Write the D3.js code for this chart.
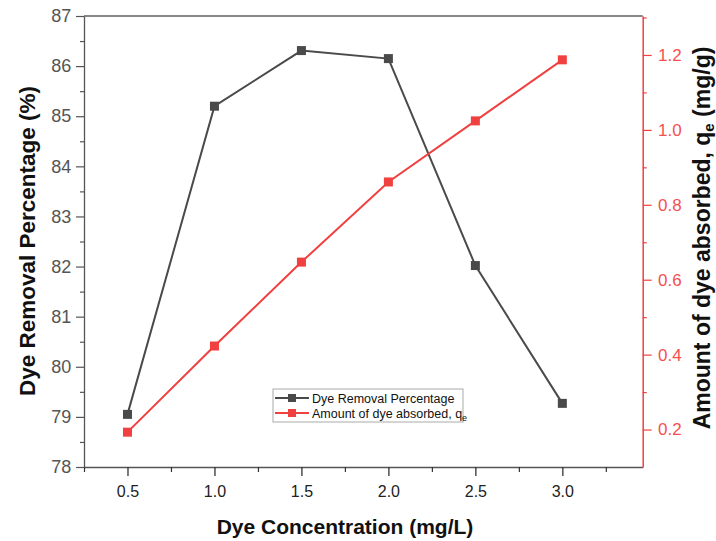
<!DOCTYPE html>
<html>
<head>
<meta charset="utf-8">
<script src="https://cdn.jsdelivr.net/npm/d3@7"></script>
<style>
  body { margin: 0; background: #fff; }
  text { font-family: "Liberation Sans", Arial, sans-serif; }
</style>
</head>
<body>
<svg width="716" height="541"></svg>
<script>
var svg = d3.select("svg");

// data
var concentration = [0.5, 1.0, 1.5, 2.0, 2.5, 3.0];
var removalPct = [79.05, 85.2, 86.31, 86.15, 82.02, 79.27];
var absorbed = [0.193, 0.423, 0.647, 0.861, 1.024, 1.187];
var xTicks = [0.5, 1.0, 1.5, 2.0, 2.5, 3.0];
var leftTicks = [78, 79, 80, 81, 82, 83, 84, 85, 86, 87];
var rightTicks = [0.2, 0.4, 0.6, 0.8, 1.0, 1.2];

// plot box (note: "top" is a reserved window global, so use pTop)
var pLeft = 84, pRight = 642.7, pTop = 16, pBottom = 467;

var x = d3.scaleLinear().domain([0.25, 3.462]).range([pLeft, pRight]);
var yL = d3.scaleLinear().domain([78, 87]).range([pBottom, pTop]);
var yR = d3.scaleLinear().domain([0.1, 1.304]).range([pBottom, pTop]);

var blk = "#4a4a4a", red = "#f04040";

// top frame line
svg.append("line").attr("x1", pLeft).attr("x2", pRight).attr("y1", pTop).attr("y2", pTop)
  .attr("stroke", "#111").attr("stroke-width", 1.2);

// x axis
var xAxis = svg.append("g").attr("transform", "translate(0," + pBottom + ")")
  .call(d3.axisBottom(x).tickValues(xTicks).tickFormat(d3.format(".1f")).tickSize(9).tickSizeOuter(0));
xAxis.select(".domain").attr("stroke", "#555").attr("stroke-width", 1.3);
xAxis.selectAll(".tick line").attr("stroke", "#333").attr("stroke-width", 1.3);
xAxis.selectAll("text").attr("font-size", 16).attr("fill", "#222").attr("dy", "1.15em");
svg.append("g").attr("transform", "translate(0," + pBottom + ")")
  .call(d3.axisBottom(x).tickValues(d3.range(0.25, 3.5, 0.5)).tickFormat("").tickSize(5).tickSizeOuter(0))
  .call(function(g) { g.select(".domain").remove(); g.selectAll("line").attr("stroke", "#333").attr("stroke-width", 1.2); });

// left axis
var lAxis = svg.append("g").attr("transform", "translate(" + pLeft + ",0)")
  .call(d3.axisLeft(yL).tickValues(leftTicks).tickSize(8).tickSizeOuter(0));
lAxis.select(".domain").attr("stroke", "#555").attr("stroke-width", 1.3);
lAxis.selectAll(".tick line").attr("stroke", "#555").attr("stroke-width", 1.2);
lAxis.selectAll("text").attr("font-size", 18).attr("fill", "#555").attr("dx", "-0.1em");
svg.append("g").attr("transform", "translate(" + pLeft + ",0)")
  .call(d3.axisLeft(yL).tickValues(d3.range(78.5, 87, 1)).tickFormat("").tickSize(4).tickSizeOuter(0))
  .call(function(g) { g.select(".domain").remove(); g.selectAll("line").attr("stroke", "#555").attr("stroke-width", 1.2); });

// right axis
var rAxis = svg.append("g").attr("transform", "translate(" + pRight + ",0)")
  .call(d3.axisRight(yR).tickValues(rightTicks).tickFormat(d3.format(".1f")).tickSize(9).tickSizeOuter(0));
rAxis.select(".domain").attr("stroke", red).attr("stroke-width", 1.5);
rAxis.selectAll(".tick line").attr("stroke", red).attr("stroke-width", 1.2);
rAxis.selectAll("text").attr("font-size", 17).attr("fill", "#f55050").attr("dx", "0.2em");
svg.append("g").attr("transform", "translate(" + pRight + ",0)")
  .call(d3.axisRight(yR).tickValues([0.3, 0.5, 0.7, 0.9, 1.1, 1.3]).tickFormat("").tickSize(4).tickSizeOuter(0))
  .call(function(g) { g.select(".domain").remove(); g.selectAll("line").attr("stroke", red).attr("stroke-width", 1.2); });

// series
var lineL = d3.line().x(function(d, i) { return x(concentration[i]); }).y(function(d) { return yL(d); });
var lineR = d3.line().x(function(d, i) { return x(concentration[i]); }).y(function(d) { return yR(d); });

svg.append("path").attr("d", lineL(removalPct)).attr("fill", "none").attr("stroke", blk).attr("stroke-width", 2);
svg.append("path").attr("d", lineR(absorbed)).attr("fill", "none").attr("stroke", red).attr("stroke-width", 2);

var sq = 9;
svg.selectAll(".mL").data(removalPct).enter().append("rect")
  .attr("x", function(d, i) { return x(concentration[i]) - sq / 2; })
  .attr("y", function(d) { return yL(d) - sq / 2; })
  .attr("width", sq).attr("height", sq).attr("fill", blk);
svg.selectAll(".mR").data(absorbed).enter().append("rect")
  .attr("x", function(d, i) { return x(concentration[i]) - sq / 2; })
  .attr("y", function(d) { return yR(d) - sq / 2; })
  .attr("width", sq).attr("height", sq).attr("fill", red);

// legend
var lg = svg.append("g").attr("transform", "translate(273,389)");
lg.append("rect").attr("width", 190).attr("height", 33).attr("fill", "#fff").attr("stroke", "#aaa").attr("stroke-width", 1);
[[blk, "Dye Removal Percentage", 9], [red, "Amount of dye absorbed, q", 24]].forEach(function(e) {
  lg.append("line").attr("x1", 2).attr("x2", 36).attr("y1", e[2]).attr("y2", e[2]).attr("stroke", e[0]).attr("stroke-width", 2);
  lg.append("rect").attr("x", 15).attr("y", e[2] - 4).attr("width", 8).attr("height", 8).attr("fill", e[0]);
  var t = lg.append("text").attr("x", 39).attr("y", e[2] + 4.5).attr("font-size", 12.5).attr("fill", "#111").text(e[1]);
  if (e[0] === red) t.append("tspan").attr("font-size", 9).attr("dy", 3).text("e");
});

// axis titles
svg.append("text").attr("x", 345).attr("y", 534).attr("text-anchor", "middle")
  .attr("font-size", 21).attr("font-weight", "bold").attr("fill", "#111").text("Dye Concentration (mg/L)");
svg.append("text").attr("transform", "translate(35,241) rotate(-90)").attr("text-anchor", "middle")
  .attr("font-size", 22.5).attr("font-weight", "bold").attr("fill", "#111").text("Dye Removal Percentage (%)");
var rt = svg.append("text").attr("transform", "translate(710,238) rotate(-90)").attr("text-anchor", "middle")
  .attr("font-size", 23).attr("font-weight", "bold").attr("fill", "#111");
rt.append("tspan").text("Amount of dye absorbed, q");
rt.append("tspan").attr("font-size", 15).attr("dy", 4).text("e");
rt.append("tspan").attr("dy", -4).text(" (mg/g)");
</script>
</body>
</html>
